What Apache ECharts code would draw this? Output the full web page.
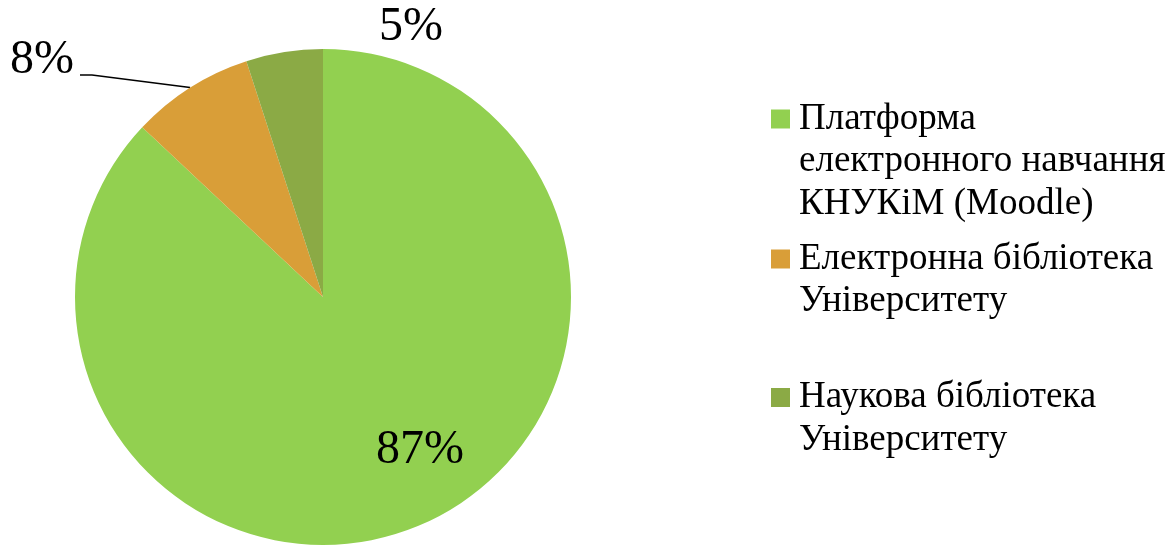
<!DOCTYPE html>
<html>
<head>
<meta charset="utf-8">
<script src="https://cdn.jsdelivr.net/npm/echarts@6/dist/echarts.min.js"></script>
<style>
  html, body { margin: 0; padding: 0; background: #fff; }
  #chart { width: 1174px; height: 545px; }
</style>
</head>
<body>
<div id="chart"></div>
<script>
// дані діаграми
const categories = [
  'Платформа електронного навчання КНУКіМ (Moodle)',
  'Електронна бібліотека Університету',
  'Наукова бібліотека Університету'
];
const values = [87, 8, 5];
const legendLines = [
  'Платформа\nелектронного навчання\nКНУКіМ (Moodle)',
  'Електронна бібліотека\nУніверситету',
  'Наукова бібліотека\nУніверситету'
];
const colors = ['#92D050', '#D99E38', '#8BAA45'];

const font = '"Liberation Serif", "Times New Roman", serif';
const lineH = 42.5;
// label positions (text only)
const labelPos = [[420, 450], [42, 60], [411, 27]];
const iconCenters = [119, 259, 397.5];

const chart = echarts.init(document.getElementById('chart'));

const legends = categories.map((name, i) => {
  const n = legendLines[i].split('\n').length;
  // пусті рядки зверху, щоб перший рядок став навпроти квадратика
  const txt = '\n'.repeat(n - 1) + legendLines[i];
  return {
    left: 771,
    top: iconCenters[i] - (2 * n - 1) * lineH / 2,
    orient: 'vertical',
    padding: 0,
    icon: 'rect',
    itemWidth: 19,
    itemHeight: 19,
    selectedMode: false,
    data: [name],
    formatter: () => txt,
    textStyle: {
      fontFamily: font,
      fontSize: 37,
      lineHeight: lineH,
      color: '#000',
      padding: [0, 0, 0, 4]
    }
  }
});

chart.setOption({
  animation: false,
  color: colors,
  legend: legends,
  series: [{
    type: 'pie',
    center: [323, 297],
    radius: 248,
    startAngle: 90,
    clockwise: true,
    avoidLabelOverlap: false,
    data: categories.map((name, i) => ({
      name: name,
      value: values[i],
      label: { position: i === 0 ? 'inside' : 'outside' },
      labelLine: { show: i === 1 }
    })),
    label: {
      formatter: '{d}%',
      fontFamily: font,
      fontSize: 48,
      color: '#000'
    },
    labelLine: {
      length: 20,
      length2: 8,
      lineStyle: { color: '#000', width: 1.5 }
    },
    labelLayout: function (params) {
      const p = labelPos[params.dataIndex];
      const res = { x: p[0], y: p[1], align: 'center', verticalAlign: 'middle' };
      if (params.dataIndex === 1 && params.labelLinePoints) {
        // лінія від краю сектора до низу підпису, як у Excel
        const edge = params.labelLinePoints[0];
        const right = p[0] + params.labelRect.width / 2 + 6;
        const ly = p[1] + 15;
        res.labelLinePoints = [edge, [right + 12, ly], [right, ly]];
      }
      return res;
    }
  }]
});
</script>
</body>
</html>
